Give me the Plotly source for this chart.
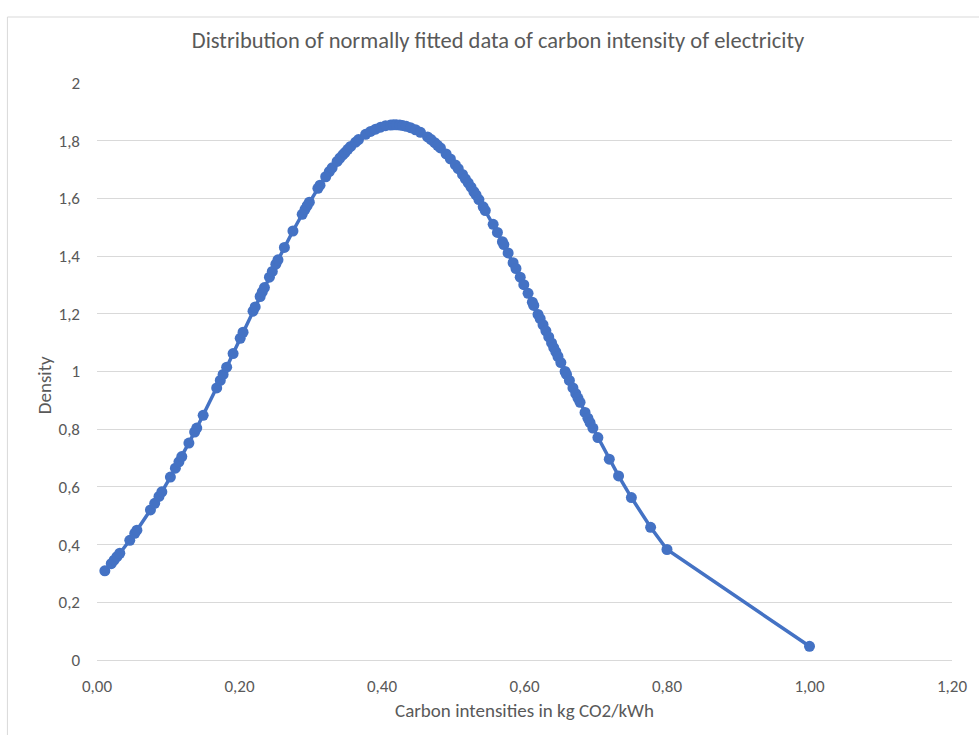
import plotly.graph_objects as go

# Carbon intensity (kg CO2/kWh) and fitted normal density
carbon_intensity = [
    0.011, 0.020, 0.024, 0.028, 0.032, 0.046, 0.053, 0.056, 0.075, 0.081,
    0.087, 0.091, 0.103, 0.110, 0.115, 0.119, 0.129, 0.137, 0.140, 0.149,
    0.168, 0.173, 0.177, 0.182, 0.191, 0.201, 0.205, 0.219, 0.222, 0.229,
    0.232, 0.235, 0.242, 0.246, 0.251, 0.254, 0.263, 0.275, 0.288, 0.292,
    0.295, 0.298, 0.310, 0.313, 0.321, 0.326, 0.330, 0.337, 0.341, 0.345,
    0.348, 0.352, 0.356, 0.363, 0.367, 0.377, 0.384, 0.391, 0.398, 0.405,
    0.412, 0.416, 0.420, 0.425, 0.429, 0.434, 0.440, 0.447, 0.454, 0.464,
    0.469, 0.474, 0.478, 0.482, 0.490, 0.496, 0.503, 0.507, 0.513, 0.517,
    0.521, 0.525, 0.529, 0.532, 0.536, 0.542, 0.545, 0.556, 0.562, 0.569,
    0.571, 0.577, 0.584, 0.588, 0.594, 0.599, 0.605, 0.611, 0.613, 0.619,
    0.622, 0.626, 0.630, 0.634, 0.638, 0.641, 0.644, 0.647, 0.651, 0.657,
    0.659, 0.663, 0.668, 0.672, 0.675, 0.678, 0.685, 0.689, 0.692, 0.696,
    0.703, 0.719, 0.732, 0.750, 0.777, 0.800, 1.000,
]
density = [
    0.309, 0.334, 0.346, 0.358, 0.370, 0.415, 0.439, 0.450, 0.520, 0.543,
    0.567, 0.583, 0.634, 0.665, 0.687, 0.705, 0.752, 0.790, 0.804, 0.848,
    0.943, 0.969, 0.990, 1.015, 1.062, 1.115, 1.136, 1.209, 1.224, 1.260,
    1.276, 1.291, 1.327, 1.347, 1.372, 1.387, 1.430, 1.487, 1.545, 1.562,
    1.575, 1.587, 1.635, 1.646, 1.675, 1.693, 1.706, 1.728, 1.740, 1.751,
    1.759, 1.770, 1.780, 1.795, 1.804, 1.822, 1.832, 1.840, 1.847, 1.852,
    1.854, 1.855, 1.855, 1.854, 1.853, 1.850, 1.845, 1.838, 1.829, 1.813,
    1.804, 1.793, 1.784, 1.775, 1.754, 1.737, 1.716, 1.703, 1.683, 1.668,
    1.654, 1.639, 1.623, 1.612, 1.596, 1.571, 1.558, 1.510, 1.482, 1.450,
    1.440, 1.411, 1.377, 1.357, 1.327, 1.301, 1.271, 1.240, 1.229, 1.198,
    1.183, 1.162, 1.141, 1.120, 1.099, 1.083, 1.068, 1.052, 1.031, 1.000,
    0.990, 0.969, 0.943, 0.923, 0.908, 0.893, 0.858, 0.838, 0.823, 0.804,
    0.771, 0.696, 0.638, 0.563, 0.460, 0.383, 0.0475,
]

x_ticks = [0.0, 0.2, 0.4, 0.6, 0.8, 1.0, 1.2]
y_ticks = [0.0, 0.2, 0.4, 0.6, 0.8, 1.0, 1.2, 1.4, 1.6, 1.8, 2.0]

title_text = "Distribution of normally fitted data of carbon intensity of electricity"
x_title = "Carbon intensities in kg CO2/kWh"
y_title = "Density"

FONT = "Carlito, 'Liberation Sans Narrow', 'Liberation Sans', sans-serif"
TXT = "#595959"
GRID = "#D9D9D9"
BLUE = "#4472C4"

fig = go.Figure()
fig.add_trace(go.Scatter(
    x=carbon_intensity, y=density, mode="lines+markers",
    line=dict(color=BLUE, width=3.5),
    marker=dict(color=BLUE, size=11, symbol="circle"),
    showlegend=False, hoverinfo="x+y",
))

fig.update_layout(
    width=979, height=735,
    margin=dict(l=97, r=23, t=83, b=75),
    paper_bgcolor="white", plot_bgcolor="white",
    separators=",.",
    font=dict(family=FONT, color=TXT, size=17),
    title=dict(text=title_text, x=498 / 979, xref="container", xanchor="center",
               y=1 - 40 / 735, yref="container", yanchor="middle",
               font=dict(family=FONT, size=22.5, color=TXT)),
    xaxis=dict(range=[0, 1.2], tickvals=x_ticks, tickformat=".2f",
               showgrid=False, zeroline=False, showline=False, ticks="",
               ticklabelstandoff=14,
               tickfont=dict(size=17, color=TXT)),
    yaxis=dict(range=[0, 2], tickvals=y_ticks, tickformat="~g",
               showgrid=True, gridcolor=GRID, gridwidth=1,
               zeroline=True, zerolinecolor=GRID, zerolinewidth=1,
               showline=False, ticks="",
               ticklabelstandoff=16,
               tickfont=dict(size=17, color=TXT)),
    annotations=[
        dict(text=x_title, xref="paper", yref="paper", x=0.5, y=(660 - 710) / 577,
             xanchor="center", yanchor="middle", showarrow=False,
             font=dict(family=FONT, size=19, color=TXT)),
        dict(text=y_title, xref="paper", yref="paper", x=(44 - 97) / 859, y=0.4766,
             xanchor="center", yanchor="middle", showarrow=False, textangle=-90,
             font=dict(family=FONT, size=19, color=TXT)),
    ],
    shapes=[
        dict(type="rect", xref="paper", yref="paper",
             x0=(7 - 97) / 859, x1=1.2, y0=-0.3, y1=(660 - 17) / 577,
             line=dict(color=GRID, width=1), fillcolor="rgba(0,0,0,0)", layer="below"),
    ],
)

fig.write_html("out.html")
